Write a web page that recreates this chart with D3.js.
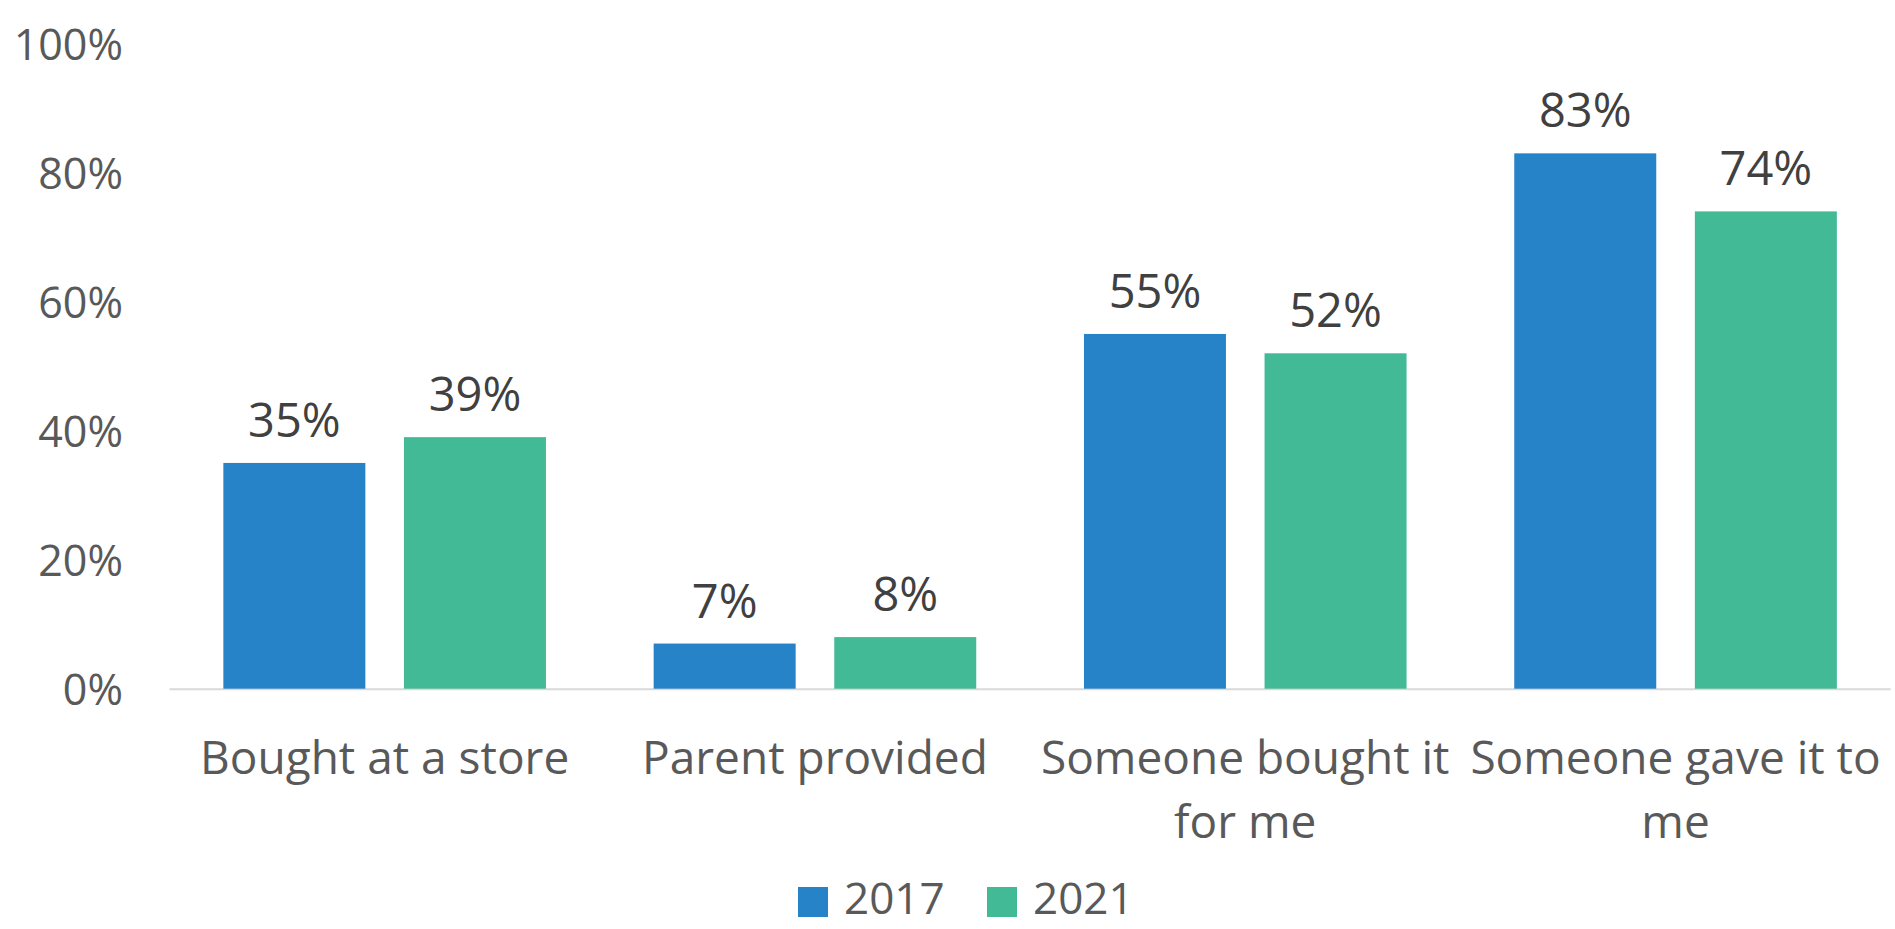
<!DOCTYPE html>
<html>
<head>
<meta charset="utf-8">
<script src="https://cdn.jsdelivr.net/npm/d3@7"></script>
<style>
  html, body { margin: 0; padding: 0; background: #fff; }
  svg { display: block; font-family: "Open Sans", "Liberation Sans", sans-serif; }
</style>
</head>
<body>
<svg id="chart" width="1895" height="929"></svg>
<script>
const categories = ["Bought at a store", "Parent provided", "Someone bought it for me", "Someone gave it to me"];
const seriesNames = ["2017", "2021"];
const values2017 = [0.35, 0.07, 0.55, 0.83];
const values2021 = [0.39, 0.08, 0.52, 0.74];
const yTicks = [0, 0.2, 0.4, 0.6, 0.8, 1.0];
const colors = ["#2783c7", "#43ba96"];

(function () {
const svg = d3.select("#chart");
const plotLeft = 169.5, plotRight = 1890.7, plotTop = 43.7, plotBottom = 688.7;

const x = d3.scaleBand().domain(categories).range([plotLeft, plotRight]).paddingInner(0).paddingOuter(0);
const y = d3.scaleLinear().domain([0, 1]).range([plotBottom, plotTop]);
const barW = 142, innerGap = 38.6;
const groupW = barW * 2 + innerGap;

const data = categories.map((c, i) => ({ c, vals: [values2017[i], values2021[i]] }));

// axis line
svg.append("line").attr("x1", plotLeft).attr("x2", plotRight).attr("y1", y(0) + 0.5).attr("y2", y(0) + 0.5)
  .attr("stroke", "#d9d9d9").attr("stroke-width", 2);

// y tick labels
const yAxis = d3.axisLeft(y).tickValues(yTicks).tickFormat(d3.format(".0%")).tickSize(0).tickPadding(0);
const gy = svg.append("g").attr("transform", "translate(123,0)").call(yAxis);
gy.select(".domain").remove();
gy.attr("font-family", null).attr("font-size", null);
gy.selectAll("text").attr("fill", "#595959").style("font-size", "43px").attr("dy", "0.36em");

// bars
const g = svg.append("g");
data.forEach(d => {
  const gx = x(d.c) + (x.bandwidth() - groupW) / 2;
  d.vals.forEach((v, j) => {
    const bx = gx + j * (barW + innerGap);
    g.append("rect").attr("x", bx).attr("y", y(v)).attr("width", barW).attr("height", y(0) - y(v))
      .attr("fill", colors[j]);
    g.append("text").attr("x", bx + barW / 2).attr("y", y(v) - 26)
      .attr("text-anchor", "middle").attr("fill", "#404040").style("font-size", "47px")
      .text(d3.format(".0%")(v));
  });
});

// category labels with wrapping
const gxl = svg.append("g");
categories.forEach(c => {
  const cx = x(c) + x.bandwidth() / 2;
  const t = gxl.append("text").attr("x", cx).attr("y", 774)
    .attr("text-anchor", "middle").attr("fill", "#595959").style("font-size", "46px");
  const words = c.split(" ");
  let line = [];
  let tspan = t.append("tspan").attr("x", cx).attr("dy", 0);
  words.forEach(w => {
    line.push(w);
    tspan.text(line.join(" "));
    if (tspan.node().getComputedTextLength() > x.bandwidth() - 4 && line.length > 1) {
      line.pop();
      tspan.text(line.join(" "));
      line = [w];
      tspan = t.append("tspan").attr("x", cx).attr("dy", 64).text(w);
    }
  });
});

// legend
const legend = svg.append("g");
const legendX = [798, 987];
seriesNames.forEach((s, i) => {
  legend.append("rect").attr("x", legendX[i]).attr("y", 887).attr("width", 30).attr("height", 30).attr("fill", colors[i]);
  legend.append("text").attr("x", legendX[i] + 46).attr("y", 914).attr("fill", "#595959")
    .style("font-size", "44px").text(s);
});
})();
</script>
</body>
</html>
